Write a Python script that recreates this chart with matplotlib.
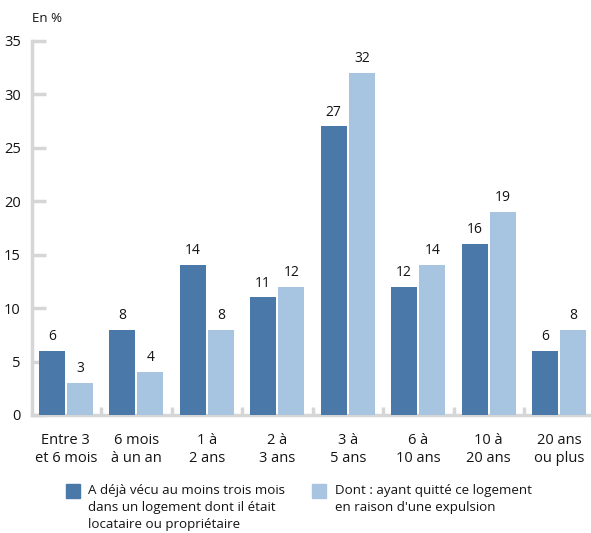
import matplotlib
matplotlib.use("Agg")
import matplotlib.pyplot as plt
import numpy as np

plt.rcParams['font.family'] = ['Open Sans', 'DejaVu Sans']

categories = ["Entre 3\net 6 mois", "6 mois\nà un an", "1 à\n2 ans", "2 à\n3 ans",
              "3 à\n5 ans", "6 à\n10 ans", "10 à\n20 ans", "20 ans\nou plus"]
vecu = [6, 8, 14, 11, 27, 12, 16, 6]
expulsion = [3, 4, 8, 12, 32, 14, 19, 8]
series_labels = ["A déjà vécu au moins trois mois\ndans un logement dont il était\nlocataire ou propriétaire",
                 "Dont : ayant quitté ce logement\nen raison d'une expulsion"]
yticks = [0, 5, 10, 15, 20, 25, 30, 35]

dark = "#4a78a8"
light = "#a7c4e0"
axis_grey = "#d6d6d6"
ink = "#141414"

W, H = 591, 533
fig = plt.figure(figsize=(W / 100, H / 100), dpi=100)
ax = fig.add_axes([32 / W, (H - 415) / H, (W - 32) / W, (415 - 41) / H])

x = np.arange(len(categories))
bw = 0.37
off = 0.2
b1 = ax.bar(x - off, vecu, bw, color=dark, zorder=3)
b2 = ax.bar(x + off, expulsion, bw, color=light, zorder=3)

for bars, vals in ((b1, vecu), (b2, expulsion)):
    for r, v in zip(bars, vals):
        ax.annotate(str(v), (r.get_x() + r.get_width() / 2, v), xytext=(0, 5),
                    textcoords="offset points", ha="center", va="bottom",
                    fontsize=10, color=ink)

ax.set_xlim(-0.48, 7.45)
ax.set_ylim(0, 35)
ax.set_yticks(yticks)
ax.set_yticklabels([str(t) for t in yticks], fontsize=10.5, color=ink)
ax.tick_params(axis="y", direction="in", length=10, width=2.5, color=axis_grey, pad=8)

# group separators as small ticks on the x axis
ax.set_xticks(np.arange(len(categories) - 1) + 0.5)
ax.set_xticklabels([])
ax.tick_params(axis="x", direction="in", length=6, width=2.5, color=axis_grey)

for s in ("top", "right"):
    ax.spines[s].set_visible(False)
for s in ("left", "bottom"):
    ax.spines[s].set_color(axis_grey)
    ax.spines[s].set_linewidth(2.5)

for xi, lab in zip(x, categories):
    ax.text(xi, -1.7, lab, ha="center", va="top", fontsize=10.5, color=ink,
            linespacing=1.3)

fig.text(32 / W, 1 - 18 / H, "En %", ha="left", va="center", fontsize=9.5, color=ink)

# legend
for (sx, tx, col, lab) in ((66, 88, dark, series_labels[0]), (312, 335, light, series_labels[1])):
    fig.patches.append(matplotlib.patches.Rectangle((sx / W, 1 - 498 / H), 14 / W, 14 / H,
                                                    transform=fig.transFigure, color=col))
    fig.text(tx / W, 1 - 484 / H, lab, ha="left", va="top", fontsize=9.6, color=ink,
             linespacing=1.4)

fig.savefig("out.png", dpi=100)
